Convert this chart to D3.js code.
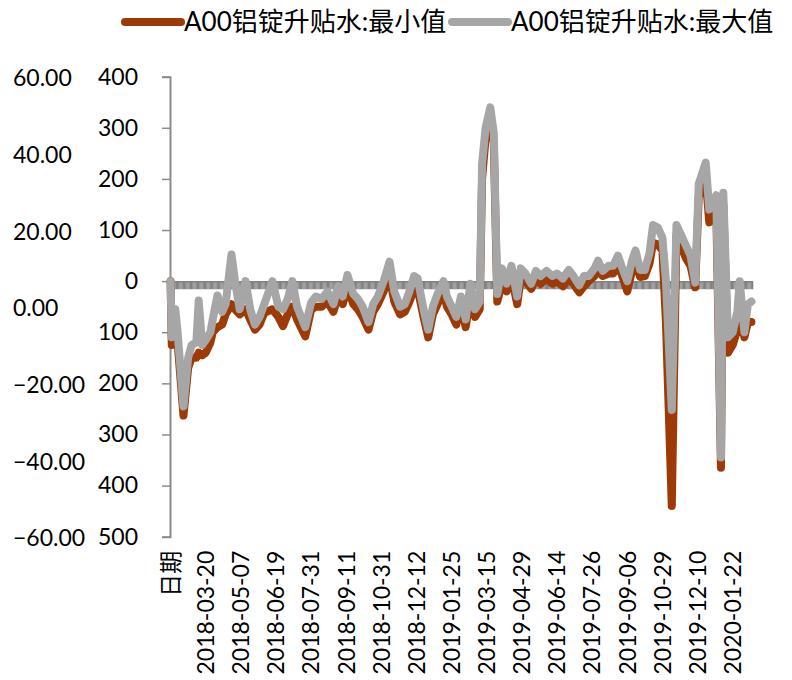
<!DOCTYPE html>
<html>
<head>
<meta charset="utf-8">
<script src="https://cdn.jsdelivr.net/npm/d3@7"></script>
<style>
  body { margin: 0; background: #fff; }
  svg { display: block; }
</style>
</head>
<body>
<svg id="chart" width="792" height="680"></svg>
<script>
// 497 categories (first one is the header cell "日期"), values read at these category indexes
var nCats = 497;
var catIdx = [
  0, 1, 4, 6, 11, 15, 18, 22, 24, 27,
  30, 34, 36, 40, 44, 47, 52, 55, 59, 64,
  68, 72, 76, 80, 87, 92, 96, 100, 104, 108,
  115, 120, 124, 129, 134, 139, 143, 147, 151, 156,
  160, 164, 169, 173, 177, 182, 187, 191, 196, 200,
  204, 208, 211, 216, 220, 224, 228, 233, 236, 240,
  244, 248, 252, 256, 260, 264, 266, 269, 273, 276,
  279, 283, 287, 291, 296, 299, 303, 308, 312, 316,
  321, 326, 330, 335, 340, 344, 349, 353, 357, 362,
  365, 369, 374, 378, 382, 385, 390, 394, 397, 401,
  405, 409, 412, 416, 420, 423, 428, 432, 436, 440,
  444, 448, 451, 457, 460, 466, 470, 472, 476, 480,
  484, 486, 490, 493, 496
];
// A00铝锭升贴水:最大值
var maxVals = [
  0, -110, -55, -100, -245, -150, -125, -120, -38, -125,
  -115, -100, -75, -28, -60, -45, 52, 0, -55, 0,
  -55, -85, -70, -45, 0, -50, -55, -35, 0, -50,
  -90, -42, -30, -35, -20, -45, -10, -30, 12, -25,
  -35, -50, -80, -45, -30, 0, 38, -20, -50, -45,
  -20, 10, 5, -55, -95, -50, -25, 0, -30, -50,
  -70, -30, -75, -5, -55, -40, 230, 300, 340, 290,
  -25, 25, -5, 30, -30, 25, 15, -5, 20, 10,
  20, 10, 15, 5, 22, 10, -8, 10, 10, 25,
  40, 20, 30, 30, 50, 30, 0, 40, 60, 22,
  22, 55, 110, 105, 85, 0, -252, 110, 90, 70,
  50, -3, 190, 232, 140, 168, -345, 173, -110, -100,
  -60, 0, -100, -45, -40
];
// A00铝锭升贴水:最小值
var minVals = [
  0, -125, -90, -120, -263, -170, -150, -150, -140, -145,
  -140, -120, -100, -90, -85, -65, -45, -55, -65, -55,
  -75, -95, -85, -62, -55, -70, -88, -65, -50, -75,
  -108, -56, -50, -50, -40, -60, -30, -45, -10, -45,
  -55, -70, -95, -60, -45, -20, 10, -40, -65, -60,
  -40, -15, -15, -70, -110, -65, -45, -20, -50, -65,
  -85, -45, -90, -30, -70, -55, 200, 280, 320, 270,
  -40, -5, -20, 10, -45, 5, 0, -15, 5, -5,
  5, -5, 0, -10, 5, -5, -22, -10, 0, 10,
  22, 10, 15, 15, 30, 15, -20, 20, 35, 8,
  10, 35, 75, 72, 60, -80, -440, 90, 70, 45,
  30, -12, 165, 200, 115, 140, -365, 150, -140, -125,
  -95, -60, -110, -80, -80
];
var tickLabels = ['日期', '2018-03-20', '2018-05-07', '2018-06-19', '2018-07-31',
  '2018-09-11', '2018-10-31', '2018-12-12', '2019-01-25', '2019-03-15',
  '2019-04-29', '2019-06-14', '2019-07-26', '2019-09-06', '2019-10-29',
  '2019-12-10', '2020-01-22'];
var labelStep = 30;
var leftTicks = [400, 300, 200, 100, 0, -100, -200, -300, -400, -500];
var outerTicks = [60, 40, 20, 0, -20, -40, -60];
var seriesNames = ['A00铝锭升贴水:最小值', 'A00铝锭升贴水:最大值'];
var seriesColors = ['#9e3a05', '#a6a6a6'];

function buildChart() {
  var svg = d3.select('#chart');
  var font = "Lato, 'Noto Sans CJK SC', sans-serif";
  var plot = { l: 170, r: 752, t: 76.7, b: 536.7 };

  var xScale = d3.scaleBand().domain(d3.range(nCats)).range([plot.l, plot.r]);
  var xEdge = d3.scaleLinear().domain([0, nCats]).range([plot.l, plot.r]);
  var yScale = d3.scaleLinear().domain([400, -500]).range([plot.t, plot.b]);
  var y2Scale = d3.scaleLinear().domain([60, -60]).range([plot.t, plot.b]);
  var cx = function(i) { return xScale(i) + xScale.bandwidth() / 2; };

  // category axis crossing at 0, tick mark at every category boundary
  var catAxis = svg.append('g')
    .attr('transform', 'translate(0,' + yScale(0) + ')')
    .call(d3.axisBottom(xEdge).tickValues(d3.range(nCats + 1)).tickSize(8).tickFormat(''));
  catAxis.select('.domain').attr('stroke', '#868686').attr('stroke-width', 1.5);
  catAxis.selectAll('.tick line').attr('stroke', '#808080').attr('stroke-width', 1.15);

  // category labels at the bottom
  var labAxis = svg.append('g')
    .attr('transform', 'translate(0,' + plot.b + ')')
    .call(d3.axisBottom(xScale)
      .tickValues(tickLabels.map(function(d, i) { return i * labelStep; }))
      .tickSize(0)
      .tickFormat(function(d) { return tickLabels[d / labelStep]; }));
  labAxis.select('.domain').remove();
  labAxis.selectAll('text')
    .attr('transform', 'rotate(-90)')
    .attr('x', -14)
    .attr('y', 0)
    .attr('dy', '0.36em')
    .style('text-anchor', 'end')
    .style('font-family', font)
    .style('font-size', '23px')
    .attr('fill', '#000');

  // value axis
  var yAxisG = svg.append('g')
    .attr('transform', 'translate(' + plot.l + ',0)')
    .call(d3.axisLeft(yScale).tickValues(leftTicks).tickSize(8).tickPadding(24)
      .tickFormat(function(d) { return Math.abs(d); }));
  yAxisG.select('.domain').attr('stroke', '#8c8c8c').attr('stroke-width', 2);
  yAxisG.selectAll('.tick line').attr('stroke', '#8c8c8c').attr('stroke-width', 1.5);
  yAxisG.selectAll('text')
    .style('font-family', font)
    .style('font-size', '23px')
    .attr('fill', '#000');

  // second value axis, labels only
  svg.append('g').selectAll('text')
    .data(outerTicks)
    .enter()
    .append('text')
    .attr('x', 13)
    .attr('y', function(d) { return y2Scale(d) + 1.5; })
    .attr('dy', '0.35em')
    .style('font-family', font)
    .style('font-size', '23px')
    .attr('fill', '#000')
    .text(function(d) { return d3.format('.2f')(d); });

  // series: min first, max on top
  var lineGen = function(vals) {
    return d3.line()
      .x(function(d, i) { return cx(catIdx[i]); })
      .y(function(d) { return yScale(d); })(vals);
  };
  [minVals, maxVals].forEach(function(vals, k) {
    svg.append('path')
      .attr('d', lineGen(vals))
      .attr('fill', 'none')
      .attr('stroke', seriesColors[k])
      .attr('stroke-width', 8)
      .attr('stroke-linejoin', 'round')
      .attr('stroke-linecap', 'round');
  });

  // legend
  var legendX = [125, 452];
  var legendG = svg.append('g');
  seriesNames.forEach(function(name, k) {
    legendG.append('line')
      .attr('x1', legendX[k]).attr('x2', legendX[k] + 56)
      .attr('y1', 22).attr('y2', 22)
      .attr('stroke', seriesColors[k])
      .attr('stroke-width', 8)
      .attr('stroke-linecap', 'round');
    legendG.append('text')
      .attr('x', legendX[k] + 59)
      .attr('y', 22)
      .attr('dy', '0.35em')
      .style('font-family', font)
      .style('font-size', '26px')
      .attr('fill', '#000')
      .text(name);
  });
}

buildChart();
</script>
</body>
</html>
